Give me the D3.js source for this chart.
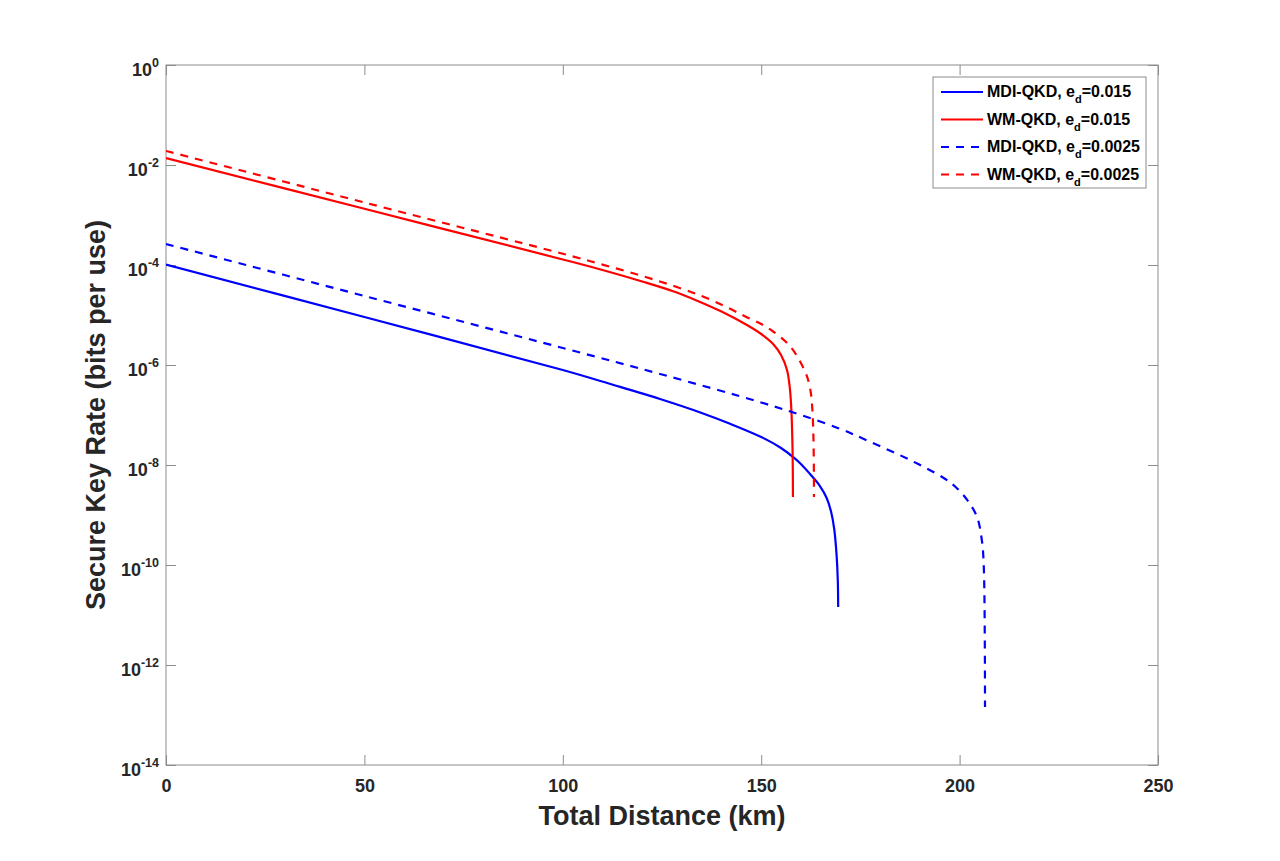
<!DOCTYPE html>
<html>
<head>
<meta charset="utf-8">
<script src="https://cdn.jsdelivr.net/npm/d3@7"></script>
<style>
  body { margin: 0; background: #fff; }
  text { font-family: "Liberation Sans", Arial, sans-serif; font-weight: bold; }
</style>
</head>
<body>
<div id="chart"></div>
<script>
// ---- data (distance in km, key rate in bits per use) ----
var wmSolidKm = [0, 50, 100, 110, 120, 128, 134, 140, 146.4, 150, 153, 155, 156.5, 157.2, 157.6, 157.9, 158.0];
var wmSolidRate = [1.38e-2, 1.33e-3, 1.29e-4, 7.94e-5, 4.68e-5, 2.95e-5, 1.91e-5, 1.17e-5, 6.31e-6, 4.17e-6, 2.63e-6, 1.58e-6, 7.94e-7, 3.55e-7, 1.26e-7, 2.00e-8, 2.29e-9];

var wmDashKm = [0, 50, 100, 110, 120, 128, 135, 141, 146, 150, 153, 156, 158, 160, 161.5, 162.4, 162.9, 163.2, 163.3];
var wmDashRate = [1.91e-2, 1.78e-3, 1.68e-4, 1.02e-4, 6.03e-5, 3.80e-5, 2.40e-5, 1.48e-5, 9.33e-6, 6.61e-6, 4.68e-6, 3.02e-6, 2.00e-6, 1.10e-6, 6.03e-7, 3.16e-7, 1.26e-7, 2.51e-8, 2.29e-9];

var mdiSolidKm = [0, 50, 100, 112, 124.5, 135, 142, 150, 155, 158, 160, 162.3, 164.8, 166.5, 167.6, 168.4, 169.0, 169.3, 169.4];
var mdiSolidRate = [1.02e-4, 9.12e-6, 7.94e-7, 4.17e-7, 2.09e-7, 1.10e-7, 6.76e-8, 3.63e-8, 2.19e-8, 1.45e-8, 1.05e-8, 6.61e-9, 3.80e-9, 2.19e-9, 1.17e-9, 5.25e-10, 1.58e-10, 5.01e-11, 1.45e-11];

var mdiDashKm = [0, 50, 100, 125, 150, 160, 170, 177, 187.5, 195.8, 199, 201.9, 204.4, 205.6, 206.1, 206.4];
var mdiDashRate = [2.63e-4, 2.40e-5, 2.19e-6, 6.46e-7, 1.78e-7, 1.00e-7, 5.25e-8, 3.02e-8, 1.26e-8, 5.62e-9, 3.63e-9, 2.00e-9, 9.12e-10, 3.16e-10, 9.12e-11, 1.45e-13];

var xTicks = [0, 50, 100, 150, 200, 250];
var yTickExp = [0, -2, -4, -6, -8, -10, -12, -14];

// legend order matches the figure
var seriesNames = ["MDI-QKD", "WM-QKD", "MDI-QKD", "WM-QKD"];
var seriesEd = ["0.015", "0.015", "0.0025", "0.0025"];
var seriesColor = ["#0000ff", "#ff0000", "#0000ff", "#ff0000"];
var seriesDash = [false, false, true, true];
var seriesKm = [mdiSolidKm, wmSolidKm, mdiDashKm, wmDashKm];
var seriesRate = [mdiSolidRate, wmSolidRate, mdiDashRate, wmDashRate];

/* ---------------- plot setup ---------------- */
var W = 1280, H = 861;
var mLeft = 166, mRight = 1158, mTop = 65, mBottom = 765;
var axisCol = "#8c8c8c";
var dashPattern = "8,7";

var svg = d3.select("#chart").append("svg")
  .attr("width", W)
  .attr("height", H);

var x = d3.scaleLinear().domain([0, 250]).range([mLeft, mRight]);
var y = d3.scaleLog().domain([1e-14, 1]).range([mBottom, mTop]);

// clip so the lines stay inside the box
svg.append("clipPath").attr("id", "clip")
  .append("rect")
  .attr("x", mLeft).attr("y", mTop)
  .attr("width", mRight - mLeft).attr("height", mBottom - mTop);

// frame
svg.append("rect")
  .attr("x", mLeft).attr("y", mTop)
  .attr("width", mRight - mLeft).attr("height", mBottom - mTop)
  .attr("fill", "none")
  .attr("stroke", axisCol)
  .attr("stroke-width", 1);

var yVals = yTickExp.map(function(e) { return Math.pow(10, e); });

// axes, ticks pointing inwards like matlab
var xAxis = svg.append("g")
  .attr("transform", "translate(0," + mBottom + ")")
  .call(d3.axisBottom(x).tickValues(xTicks).tickSizeInner(-10).tickSizeOuter(0).tickPadding(14)
    .tickFormat(d3.format("d")));
svg.append("g")
  .attr("transform", "translate(0," + mTop + ")")
  .call(d3.axisTop(x).tickValues(xTicks).tickSizeInner(-10).tickSizeOuter(0).tickFormat(""));

var yAxis = svg.append("g")
  .attr("transform", "translate(" + mLeft + ",0)")
  .call(d3.axisLeft(y).tickValues(yVals).tickSizeInner(-10).tickSizeOuter(0)
    .tickFormat(""));
svg.append("g")
  .attr("transform", "translate(" + mRight + ",0)")
  .call(d3.axisRight(y).tickValues(yVals).tickSizeInner(-10).tickSizeOuter(0).tickFormat(""));

svg.selectAll(".domain").remove();
svg.selectAll(".tick line").attr("stroke", axisCol);

xAxis.selectAll("text")
  .attr("font-size", "18px")
  .attr("fill", "#262626")
  .attr("font-family", null);

// y labels as 10^n with superscript
yAxis.selectAll(".tick text").remove();
yAxis.selectAll(".tick").each(function(d, i) {
  var t = d3.select(this).append("text")
    .attr("x", -7)
    .attr("y", 10)
    .attr("text-anchor", "end")
    .attr("font-size", "18px")
    .attr("fill", "#262626");
  t.append("tspan").text("10");
  t.append("tspan")
    .attr("dy", -9)
    .attr("font-size", "12.5px")
    .text(yTickExp[i]);
});

// axis titles
svg.append("text")
  .attr("x", (mLeft + mRight) / 2)
  .attr("y", 825)
  .attr("text-anchor", "middle")
  .attr("font-size", "27px")
  .attr("fill", "#262626")
  .text("Total Distance (km)");

svg.append("text")
  .attr("transform", "translate(105," + ((mTop + mBottom) / 2) + ") rotate(-90)")
  .attr("text-anchor", "middle")
  .attr("font-size", "27px")
  .attr("fill", "#262626")
  .text("Secure Key Rate (bits per use)");

// curves
var line = d3.line()
  .x(function(d) { return x(d[0]); })
  .y(function(d) { return y(d[1]); })
  .curve(d3.curveCatmullRom.alpha(0.5));

var plot = svg.append("g").attr("clip-path", "url(#clip)");

for (var s = 0; s < seriesKm.length; s++) {
  var pts = seriesKm[s].map(function(k, j) { return [k, seriesRate[s][j]]; });
  plot.append("path")
    .datum(pts)
    .attr("d", line)
    .attr("fill", "none")
    .attr("stroke", seriesColor[s])
    .attr("stroke-width", 2.2)
    .attr("stroke-dasharray", seriesDash[s] ? dashPattern : null);
}

/* ---------------- legend ---------------- */
var lg = svg.append("g");
lg.append("rect")
  .attr("x", 933).attr("y", 77)
  .attr("width", 213).attr("height", 111)
  .attr("fill", "#fff")
  .attr("stroke", axisCol)
  .attr("stroke-width", 1);

seriesNames.forEach(function(name, i) {
  var ry = 92 + i * 27.5;
  lg.append("line")
    .attr("x1", 941).attr("x2", 983)
    .attr("y1", ry).attr("y2", ry)
    .attr("stroke", seriesColor[i])
    .attr("stroke-width", 2.2)
    .attr("stroke-dasharray", seriesDash[i] ? dashPattern : null);
  var t = lg.append("text")
    .attr("x", 987)
    .attr("y", ry + 5)
    .attr("font-size", "16px")
    .attr("fill", "#000");
  t.append("tspan").text(name + ", e");
  t.append("tspan").attr("dy", 6).attr("font-size", "11px").text("d");
  t.append("tspan").attr("dy", -6).text("=" + seriesEd[i]);
});
</script>
</body>
</html>
